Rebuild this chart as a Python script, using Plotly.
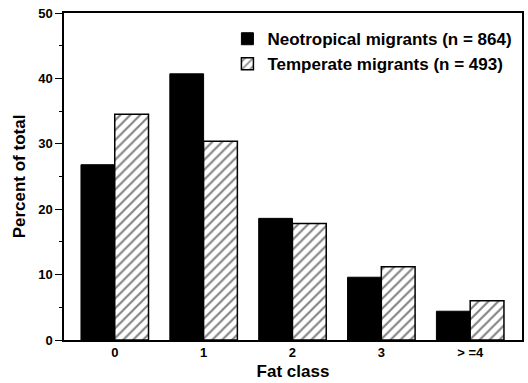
import plotly.graph_objects as go

categories = ["0", "1", "2", "3", "> =4"]
neotropical = [26.8, 40.7, 18.6, 9.6, 4.4]
temperate = [34.5, 30.4, 17.8, 11.2, 6.0]
series_names = ["Neotropical migrants (n = 864)", "Temperate migrants (n = 493)"]
y_ticks = [0, 10, 20, 30, 40, 50]

FONT = "Liberation Sans, Arial, Helvetica, sans-serif"

fig = go.Figure()
fig.add_trace(go.Bar(
    x=categories, y=neotropical, name=series_names[0],
    marker=dict(color="black", line=dict(color="black", width=1)),
))
fig.add_trace(go.Bar(
    x=categories, y=temperate, name=series_names[1],
    marker=dict(color="white", line=dict(color="black", width=1.5),
                pattern=dict(shape="/", fgcolor="black", bgcolor="white",
                             size=7, solidity=0.28)),
))

fig.update_layout(
    width=528, height=383,
    margin=dict(l=64, r=4, t=13, b=43),
    paper_bgcolor="white", plot_bgcolor="white",
    barmode="group", bargap=0.24, bargroupgap=0,
    font=dict(family=FONT, color="black", size=13, weight="bold"),
    showlegend=True,
    legend=dict(x=0.99, y=0.975, xanchor="right", yanchor="top",
                bgcolor="rgba(0,0,0,0)", borderwidth=0,
                font=dict(size=17, family=FONT, weight="bold", color="black"),
                itemwidth=30, tracegroupgap=0),
    xaxis=dict(
        type="category", range=[-0.571, 4.583],
        showline=True, linecolor="black", linewidth=1.5, mirror=True,
        ticks="", showgrid=False, zeroline=False,
        tickfont=dict(size=13, family=FONT, weight="bold"),
        title=dict(text="Fat class", font=dict(size=17, family=FONT, weight="bold"), standoff=6),
    ),
    yaxis=dict(
        range=[0, 50], tickvals=y_ticks,
        showline=True, linecolor="black", linewidth=1.5, mirror=True,
        ticks="outside", ticklen=7, tickwidth=1.2, tickcolor="black",
        minor=dict(dtick=5, ticks="outside", ticklen=3, tickcolor="black", tickwidth=1),
        showgrid=False, zeroline=False,
        tickfont=dict(size=13, family=FONT, weight="bold"),
        title=dict(text="Percent of total", font=dict(size=17, family=FONT, weight="bold"), standoff=8),
    ),
)

fig.write_html("out.html")
